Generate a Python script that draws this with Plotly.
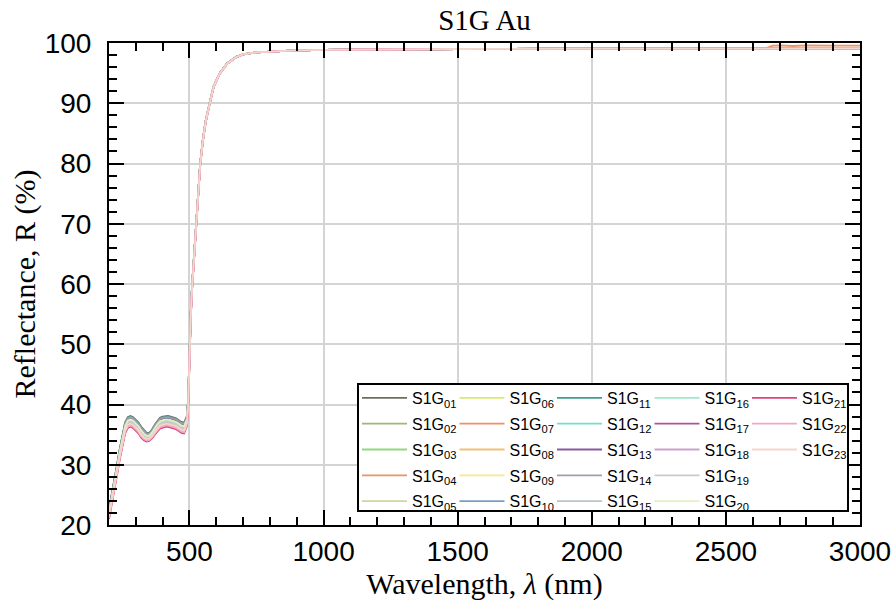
import plotly.graph_objects as go

# wavelength grid (nm) and reference reflectance curve (%)
wavelength = [200, 210, 220, 230, 240, 250, 260, 270, 280, 290, 300, 310, 320, 330,
              340, 350, 360, 370, 380, 390, 400, 410, 420, 430, 440, 450, 460, 470,
              480, 490, 495, 497, 500, 505, 510, 517, 525, 532, 540, 550, 560, 575,
              590, 613, 640, 675, 700, 750, 800, 875, 1000, 1200, 1500, 2000, 2500,
              2650, 2675, 2700, 2750, 2800, 2900, 3000]
reflectance = [22.6, 24.9, 27.3, 30.0, 32.6, 35.0, 37.0, 37.9, 38.1, 37.9, 37.5, 37.0,
               36.3, 35.7, 35.3, 35.3, 35.8, 36.6, 37.3, 37.8, 38.0, 38.1, 38.1, 38.0,
               37.9, 37.7, 37.4, 37.1, 37.0, 38.0, 40.7, 44.0, 50.0, 55.5, 60.0, 65.0,
               70.0, 75.0, 80.0, 84.0, 87.0, 90.0, 92.8, 95.0, 96.6, 97.7, 98.1, 98.45,
               98.6, 98.75, 98.85, 98.95, 99.0, 99.05, 99.1, 99.1, 99.1, 99.1, 99.1,
               99.1, 99.1, 99.1]
# how much the samples differ at each wavelength (1 = full UV spread)
uv_spread = [0.9, 0.9, 0.9, 0.9, 0.95, 1.0, 1.0, 1.0, 1.0, 1.0, 1.0, 1.0, 1.0, 0.9,
             0.8, 0.75, 0.8, 0.9, 1.0, 1.0, 1.0, 1.0, 1.0, 1.0, 1.0, 1.0, 1.0, 1.0,
             1.0, 0.9, 0.8, 0.7, 0.6, 0.5, 0.4, 0.35, 0.3, 0.25, 0.2, 0.18, 0.15, 0.1,
             0.08, 0.05, 0.03, 0.02, 0.0, 0.0, 0.0, 0.0, 0.0, 0.0, 0.0, 0.0, 0.0, 0.0,
             0.0, 0.0, 0.0, 0.0, 0.0, 0.0]
# tail of S1G07 that sits above the others beyond ~2650 nm
s07_tail = [0, 0, 0, 0, 0, 0, 0, 0, 0, 0, 0, 0, 0, 0, 0, 0, 0, 0, 0, 0, 0, 0, 0, 0,
            0, 0, 0, 0, 0, 0, 0, 0, 0, 0, 0, 0, 0, 0, 0, 0, 0, 0, 0, 0, 0, 0, 0, 0,
            0, 0, 0, 0, 0, 0, 0, 0.05, 0.45, 0.5, 0.4, 0.5, 0.45, 0.45]

samples = ["01", "02", "03", "04", "05", "06", "07", "08", "09", "10", "11", "12",
           "13", "14", "15", "16", "17", "18", "19", "20", "21", "22", "23"]
uv_shift = [0.0, -0.3, -0.5, -1.5, -0.6, -0.4, -1.7, -0.9, -0.7, -0.2, -0.1, -0.8,
            -0.3, -0.2, -1.0, -0.9, -1.2, -1.1, -1.0, -0.6, -1.8, -1.6, -1.3]
colors = ["#6e6e5c", "#9fb872", "#92d97c", "#e8946a", "#cdd69c", "#d6ec70",
          "#f08f66", "#f2bf78", "#f5ea86", "#7d9ec4", "#3f9f8f", "#72e0c8",
          "#8a5aa0", "#a39cab", "#b9c5c9", "#a0e8c8", "#b2529c", "#c9a2ca",
          "#cacaca", "#e2f0c2", "#e2427c", "#f0a8c8", "#f4d6cc"]

fig = go.Figure()

for i, (name, shift, col) in enumerate(zip(samples, uv_shift, colors)):
    r = [b + shift * w for b, w in zip(reflectance, uv_spread)]
    if name == "07":
        r = [v + t for v, t in zip(r, s07_tail)]
    column = i // 5
    fig.add_trace(go.Scatter(
        x=wavelength, y=r, mode="lines",
        name=f"S1G<sub>{name}</sub>",
        line=dict(color=col, width=1.8),
        legend="legend" if column == 0 else f"legend{column + 1}",
        legendgroup=name,
    ))

W, H = 896, 605
# plot area in page pixels: x 109..860, y 43..525
L, R, T, B = 109, 860, 43, 525
def px(xp):
    return (xp - L) / (R - L)
def py(yp):
    return (B - yp) / (B - T)

legend_font = dict(family="Liberation Sans, Arial", size=16, color="black")
legends = {}
for c in range(5):
    key = "legend" if c == 0 else f"legend{c + 1}"
    legends[key] = dict(
        x=px(357 + 97.5 * c), xanchor="left",
        y=py(381), yanchor="top",
        bgcolor="rgba(0,0,0,0)", borderwidth=0,
        font=legend_font, itemwidth=45, tracegroupgap=2,
    )

axis_common = dict(
    showline=True, linecolor="black", linewidth=2, mirror="allticks",
    ticks="inside", ticklen=15, tickwidth=2, tickcolor="black",
    showgrid=True, gridcolor="#d4d4d4", gridwidth=1.5, zeroline=False,
    automargin=False,
    tickfont=dict(family="Liberation Sans, Arial", size=28, color="black"),
)

fig.update_layout(
    width=W, height=H,
    margin=dict(l=L, r=W - R, t=T, b=H - B),
    plot_bgcolor="white", paper_bgcolor="white",
    title=dict(text="S1G Au", x=0.5, xref="paper", y=1 - 20 / H, yanchor="middle",
               font=dict(family="Liberation Serif, Times New Roman", size=29, color="black")),
    xaxis=dict(range=[200, 3000], tick0=0, dtick=500,
               minor=dict(dtick=100, ticks="inside", ticklen=8, tickwidth=1.5,
                          tickcolor="black", showgrid=False),
               title=dict(text="Wavelength, <i>λ</i> (nm)", standoff=0,
                          font=dict(family="Liberation Serif, Times New Roman", size=30,
                                    color="black")),
               **axis_common),
    yaxis=dict(range=[20, 100], tick0=0, dtick=10, ticklabelstandoff=10,
               minor=dict(dtick=2, ticks="inside", ticklen=8, tickwidth=1.5,
                          tickcolor="black", showgrid=False),
               title=dict(text="Reflectance, R (%)", standoff=0,
                          font=dict(family="Liberation Serif, Times New Roman", size=30,
                                    color="black")),
               **axis_common),
    shapes=[dict(type="rect", xref="paper", yref="paper",
                 x0=px(358), x1=px(848), y0=py(511), y1=py(384),
                 line=dict(color="black", width=2), fillcolor="white", layer="above")],
    **legends,
)

# drop the browser's default 8px body margin so the figure sits at the page corner
fig.write_html("out.html", config={"displayModeBar": False},
               post_script="document.body.style.margin = '0';")
